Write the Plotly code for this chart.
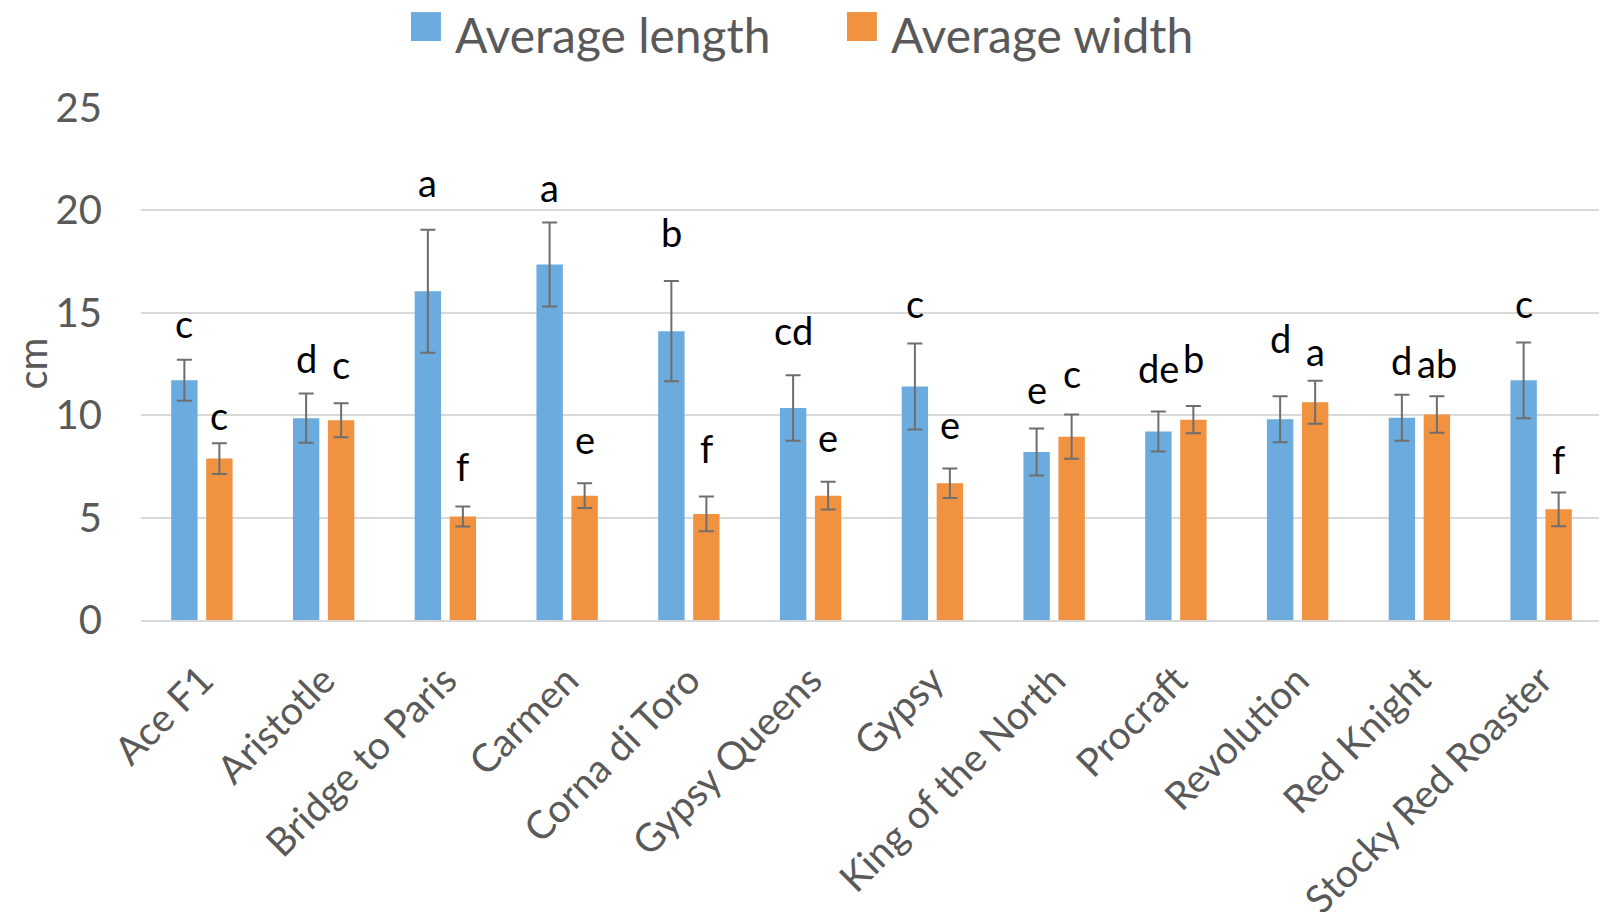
import plotly.graph_objects as go

categories = ["Ace F1", "Aristotle", "Bridge to Paris", "Carmen", "Corna di Toro",
              "Gypsy Queens", "Gypsy", "King of the North", "Procraft", "Revolution",
              "Red Knight", "Stocky Red Roaster"]
avg_length = [11.7, 9.85, 16.05, 17.35, 14.1, 10.35, 11.4, 8.2, 9.2, 9.8, 9.87, 11.7]
length_err = [1.0, 1.2, 3.0, 2.05, 2.45, 1.6, 2.1, 1.15, 0.98, 1.12, 1.12, 1.85]
avg_width = [7.88, 9.75, 5.05, 6.07, 5.18, 6.07, 6.68, 8.95, 9.78, 10.63, 10.03, 5.4]
width_err = [0.75, 0.83, 0.49, 0.6, 0.85, 0.68, 0.72, 1.08, 0.66, 1.05, 0.89, 0.82]

length_letters = ["c", "d", "a", "a", "b", "cd", "c", "e", "de", "d", "d", "c"]
width_letters = ["c", "c", "f", "e", "f", "e", "e", "c", "b", "a", "ab", "f"]
length_letter_y = [14.34, 12.64, 21.23, 20.98, 18.78, 14.0, 15.33, 11.13, 12.14, 13.64, 12.54, 15.33]
width_letter_y = [9.84, 12.34, 7.39, 8.69, 8.24, 8.79, 9.44, 11.93, 12.64, 12.99, 12.39, 7.69]

y_ticks = [0, 5, 10, 15, 20, 25]

BLUE = "#6CABDD"
ORANGE = "#F19240"
FONT = "Lato"
GRAY_TXT = "#595959"

fig = go.Figure()
fig.add_trace(go.Bar(
    name="Average length", x=categories, y=avg_length, marker_color=BLUE,
    marker_line_width=0,
    error_y=dict(type="data", array=length_err, visible=True, color="#6E6E6E",
                 thickness=2, width=7.5),
))
fig.add_trace(go.Bar(
    name="Average width", x=categories, y=avg_width, marker_color=ORANGE,
    marker_line_width=0,
    error_y=dict(type="data", array=width_err, visible=True, color="#6E6E6E",
                 thickness=2, width=7.5),
))

annotations = []
for cat, lt, ly in zip(categories, length_letters, length_letter_y):
    annotations.append(dict(x=cat, y=ly, text=lt, showarrow=False, xshift=-17.5, yshift=3,
                            font=dict(family=FONT, size=38, color="black")))
for cat, lt, ly in zip(categories, width_letters, width_letter_y):
    annotations.append(dict(x=cat, y=ly, text=lt, showarrow=False, xshift=17.5, yshift=3,
                            font=dict(family=FONT, size=38, color="black")))

# custom legend (large swatches like the reference)
legend_items = [("Average length", BLUE, 0.1848), ("Average width", ORANGE, 0.4832)]
shapes = []
for name, col, x0 in legend_items:
    shapes.append(dict(type="rect", xref="paper", yref="paper", x0=x0, x1=x0 + 0.0205,
                       y0=1.1287, y1=1.185, fillcolor=col, line_width=0))
    annotations.append(dict(xref="paper", yref="paper", x=x0 + 0.0294, y=1.142,
                            xanchor="left", yanchor="middle", text=name, showarrow=False,
                            borderpad=0,
                            font=dict(family=FONT, size=48, color=GRAY_TXT)))

fig.update_layout(
    width=1599, height=904,
    margin=dict(l=133, r=5, t=99, b=292, autoexpand=False),
    paper_bgcolor="white", plot_bgcolor="white",
    barmode="group", bargap=0.425, bargroupgap=0.246,
    showlegend=False,
    annotations=annotations, shapes=shapes,
    font=dict(family=FONT, color=GRAY_TXT),
)
fig.update_yaxes(
    range=[0, 25.04], tickvals=y_ticks, showgrid=True, gridcolor="#D9D9D9", gridwidth=1.5,
    zeroline=False, showline=False, ticks="", ticklabelstandoff=38,
    tickfont=dict(family=FONT, size=40, color=GRAY_TXT),
    title=dict(text="cm", font=dict(family=FONT, size=40, color=GRAY_TXT), standoff=6),
)
fig.update_xaxes(
    showline=True, linecolor="#D9D9D9", linewidth=1.5, showgrid=False, ticks="",
    tickangle=-45, ticklabelstandoff=20,
    tickfont=dict(family=FONT, size=39, color=GRAY_TXT),
)

fig.write_html("out.html")
